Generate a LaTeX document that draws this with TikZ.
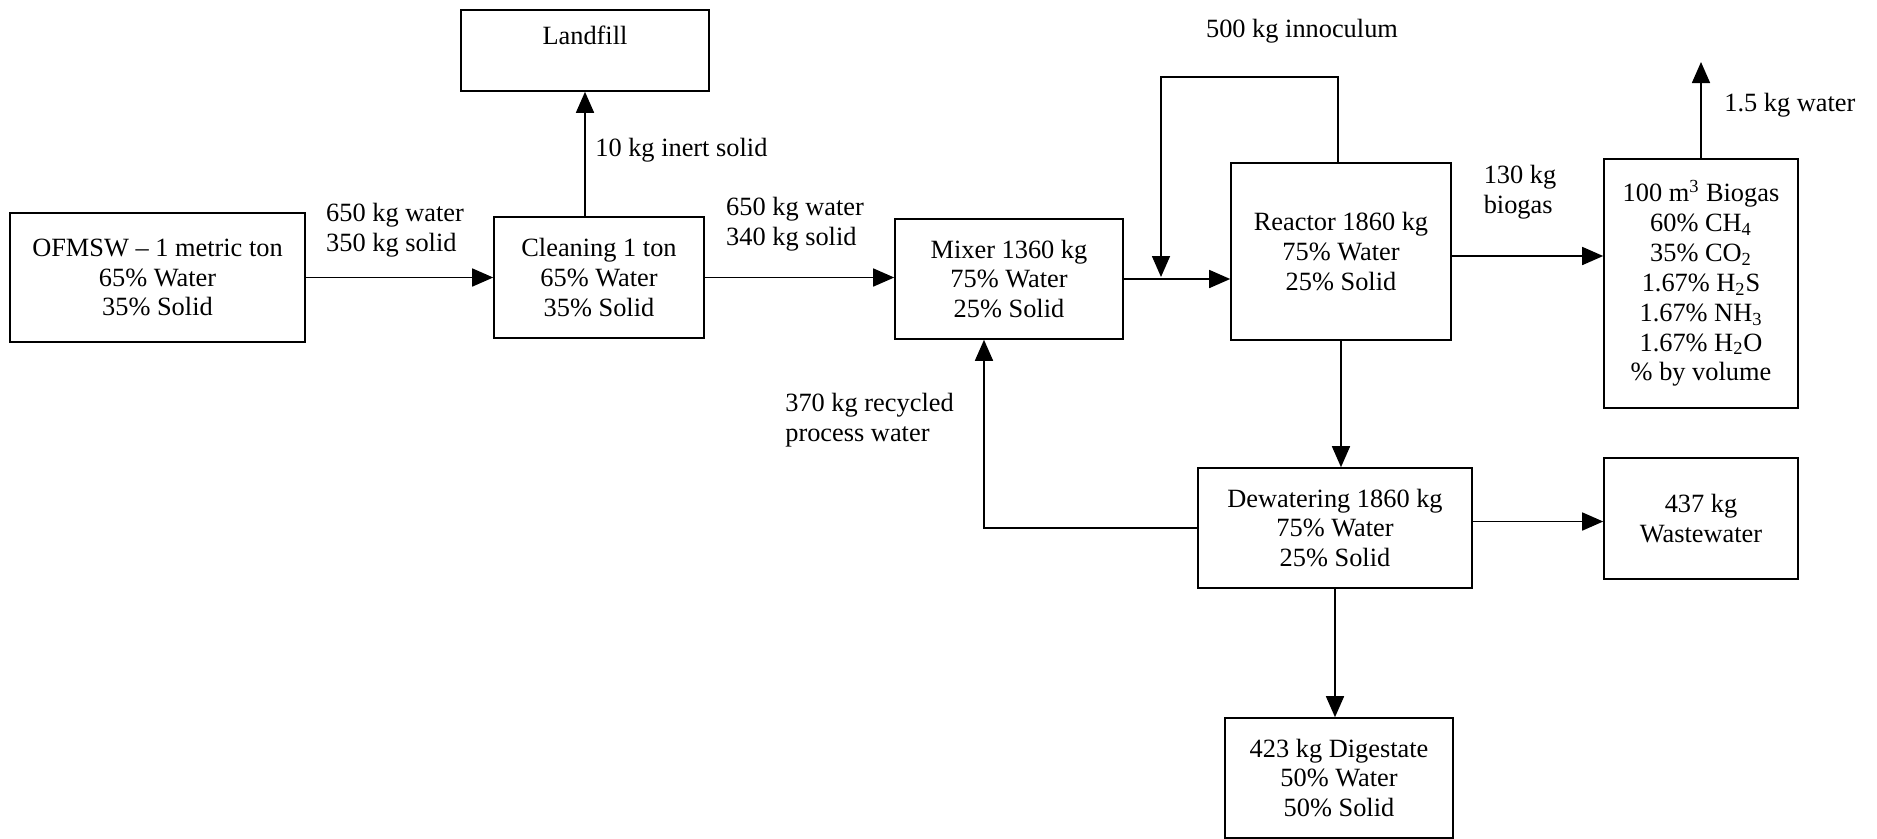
\documentclass[tikz,border=0pt]{standalone}
\usepackage{fontspec}
\setmainfont{Liberation Serif}
\usepackage{tikz}
\usetikzlibrary{positioning, arrows.meta, calc}

\begin{document}
\begin{tikzpicture}[>={Triangle[length=0.42cm, width=0.36cm]},
		unit/.style={rectangle, draw, line width=0.9pt, inner sep=0pt, align=center},
		stream/.style={align=left, inner sep=0pt},
		flow/.style={line width=0.9pt, ->}]
		\fontsize{15}{17}\selectfont
		\useasboundingbox (0,0) rectangle (37.54,-16.76);
		
		% Process units
		\node[unit, minimum width=5.9cm, minimum height=2.58cm] (ofmsw) at (3.15,-5.55) {OFMSW -- 1 metric ton\\65\% Water\\35\% Solid};
		\node[unit, minimum width=4.2cm, minimum height=2.42cm] (cleaning) at (11.98,-5.55) {Cleaning 1 ton\\65\% Water\\35\% Solid};
		\node[unit, minimum width=4.96cm, minimum height=1.62cm] (landfill) at (11.7,-1.01) {Landfill\\ \mbox{}};
		\node[unit, minimum width=4.56cm, minimum height=2.4cm] (mixer) at (20.18,-5.58) {Mixer 1360 kg\\75\% Water\\25\% Solid};
		\node[unit, minimum width=4.4cm, minimum height=3.54cm] (reactor) at (26.82,-5.03) {Reactor 1860 kg\\75\% Water\\25\% Solid};
		\node[unit, minimum width=3.88cm, minimum height=4.98cm] (biogas) at (34.02,-5.67) {100 m\textsuperscript{3} Biogas\\60\% CH\textsubscript{4}\\35\% CO\textsubscript{2}\\1.67\% H\textsubscript{2}S\\1.67\% NH\textsubscript{3}\\1.67\% H\textsubscript{2}O\\\% by volume};
		\node[unit, minimum width=5.48cm, minimum height=2.4cm] (dewater) at (26.7,-10.56) {Dewatering 1860 kg\\75\% Water\\25\% Solid};
		\node[unit, minimum width=3.88cm, minimum height=2.42cm] (waste) at (34.02,-10.37) {437 kg\\Wastewater};
		\node[unit, minimum width=4.56cm, minimum height=2.4cm] (digest) at (26.78,-15.56) {423 kg Digestate\\50\% Water\\50\% Solid};
		
		% free ends
		\coordinate (join) at (23.22,-5.54);
		\coordinate (vent) at (34.02,-1.24);
		
		% Stream labels
		\node[stream] (lfeed) at (7.9,-4.6) {650 kg water\\350 kg solid};
		\node[stream, anchor=west] (linert) at (11.9,-3.0) {10 kg inert solid};
		\node[stream] (lclean) at (15.9,-4.48) {650 kg water\\340 kg solid};
		\node[stream] (linoc) at (26.04,-0.62) {500 kg innoculum};
		\node[stream] (lgas) at (30.4,-3.84) {130 kg\\biogas};
		\node[stream, anchor=west] (lvent) at (34.48,-2.1) {1.5 kg water};
		\node[stream, anchor=west] (lrecyc) at (15.7,-8.4) {370 kg recycled\\process water};
		
		% connections
		\draw[flow] (ofmsw) -- (cleaning);
		\draw[flow] (landfill.south |- cleaning.north) -- (landfill.south);
		\draw[flow] (cleaning.east) -- (cleaning.east -| mixer.west);
		\draw[flow] (mixer.east) -- (mixer.east -| reactor.west);
		\draw[flow] ([xshift=-0.06cm]reactor.north) -- ++(0,1.7) -| (join);
		\draw[flow] ([yshift=-0.09cm]reactor.east) -- ([yshift=-0.09cm]reactor.east -| biogas.west);
		\draw[flow] (biogas.north) -- (vent);
		\draw[flow] (reactor.south) -- (reactor.south |- dewater.north);
		\draw[flow] ([yshift=-0.06cm]waste.west -| dewater.east) -- ([yshift=-0.06cm]waste.west);
		\draw[flow] (dewater.west) -| ([xshift=-0.5cm]mixer.south);
		\draw[flow] (dewater.south) -- (dewater.south |- digest.north);
	\end{tikzpicture}
\end{document}
